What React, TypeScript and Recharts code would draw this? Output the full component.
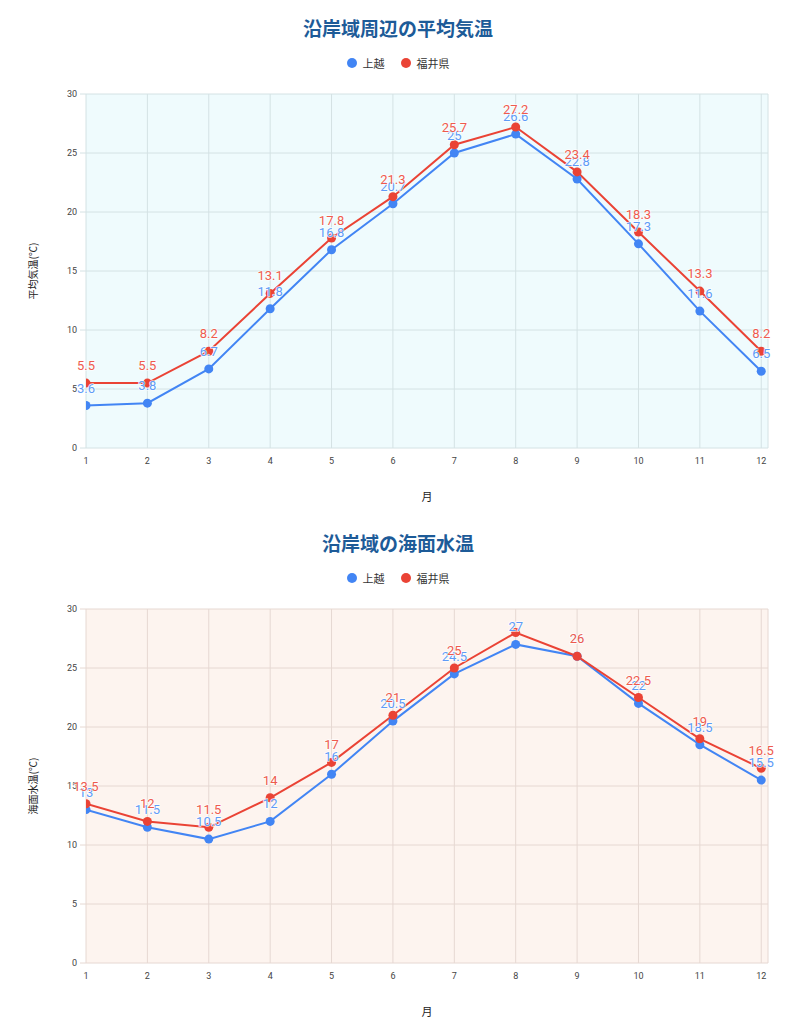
import React from "react";
import { LineChart, Line, XAxis, YAxis, CartesianGrid, LabelList } from "recharts";

const months = [1, 2, 3, 4, 5, 6, 7, 8, 9, 10, 11, 12];
const minorTicks = [1.5, 2.5, 3.5, 4.5, 5.5, 6.5, 7.5, 8.5, 9.5, 10.5, 11.5];
const yTicks = [0, 5, 10, 15, 20, 25, 30];

const seriesNames = ["上越", "福井県"];

// 平均気温
const airJoetsu = [3.6, 3.8, 6.7, 11.8, 16.8, 20.7, 25, 26.6, 22.8, 17.3, 11.6, 6.5];
const airFukui = [5.5, 5.5, 8.2, 13.1, 17.8, 21.3, 25.7, 27.2, 23.4, 18.3, 13.3, 8.2];

// 海面水温
const seaJoetsu = [13, 11.5, 10.5, 12, 16, 20.5, 24.5, 27, 26, 22, 18.5, 15.5];
const seaFukui = [13.5, 12, 11.5, 14, 17, 21, 25, 28, 26, 22.5, 19, 16.5];

const BLUE = "#4285f4";
const RED = "#ea4335";
const BLUE_LABEL = "#5e9bf7";
const RED_LABEL = "#ee5b4e";
const FONT = "Roboto, 'Noto Sans CJK JP', sans-serif";
const JP = "'Noto Sans CJK JP', Roboto, sans-serif";

const MARGIN_TOP = 14;
const LABEL_OFFSET = 13;
const LABEL_SIZE = 13;

type ChartProps = {
  title: string;
  yLabel: string;
  bg: string;
  grid: string;
  a: number[];
  b: number[];
  top: number;
};

// annotations that would stick out above the plot area are dropped, like the original
const makeLabel = (color: string) => (props: any) => {
  const { x, y, value } = props;
  if (y - LABEL_OFFSET - LABEL_SIZE < MARGIN_TOP) return null;
  return (
    <text
      x={x}
      y={y - LABEL_OFFSET}
      textAnchor="middle"
      fill={color}
      fontSize={LABEL_SIZE}
      fontFamily={FONT}
      stroke="#ffffff"
      strokeWidth={1.5}
      strokeOpacity={0.8}
      paintOrder="stroke"
    >
      {value}
    </text>
  );
};

function Legend() {
  const dot = (c: string) => (
    <span style={{ display: "inline-block", width: 10, height: 10, borderRadius: 5, background: c, marginRight: 6 }} />
  );
  return (
    <div style={{ position: "absolute", top: 55, left: 0, width: 796, height: 16, display: "flex", justifyContent: "center", alignItems: "center", fontFamily: JP, fontSize: 11, color: "#333" }}>
      <span style={{ display: "flex", alignItems: "center", marginRight: 16 }}>{dot(BLUE)}{seriesNames[0]}</span>
      <span style={{ display: "flex", alignItems: "center" }}>{dot(RED)}{seriesNames[1]}</span>
    </div>
  );
}

function TempChart({ top, title, yLabel, bg, grid, a, b }: ChartProps) {
  const data = months.map((m, i) => ({ month: m, a: a[i], b: b[i] }));
  return (
    <div style={{ position: "absolute", top, left: 0, width: 796, height: 515 }}>
      <div style={{ position: "absolute", top: 15, left: 0, width: 796, height: 26, lineHeight: "26px", textAlign: "center", fontFamily: JP, fontWeight: 700, fontSize: 19, color: "#1d5b98" }}>
        {title}
      </div>
      <Legend />
      <div style={{ position: "absolute", top: 80, left: 0 }}>
        <LineChart width={796} height={440} data={data} margin={{ top: MARGIN_TOP, right: 28, left: 0, bottom: 12 }}>
          <CartesianGrid xAxisId="main" stroke={grid} fill={bg} fillOpacity={1} />
          <XAxis
            xAxisId="minor"
            type="number"
            domain={[1, 12.11]}
            ticks={minorTicks}
            allowDataOverflow
            height={0}
            tickSize={3}
            tickFormatter={() => ""}
            stroke="#333"
            tickLine={{ stroke: "#333" }}
            axisLine={{ stroke: "#333", strokeWidth: 1 }}
          />
          <XAxis
            xAxisId="main"
            dataKey="month"
            type="number"
            domain={[1, 12.11]}
            ticks={months}
            allowDataOverflow
            height={60}
            axisLine={false}
            tickLine={false}
            tickMargin={4}
            tick={{ fontSize: 9, fill: "#444", fontFamily: FONT }}
            label={{ value: "月", position: "insideBottom", offset: 7, fontSize: 11, fill: "#222", fontFamily: JP }}
          />
          <YAxis
            domain={[0, 30]}
            ticks={yTicks}
            width={86}
            axisLine={false}
            tickSize={6}
            tickMargin={3}
            tickLine={{ stroke: grid }}
            tick={{ fontSize: 9, fill: "#444", fontFamily: FONT }}
            label={{ value: yLabel, angle: -90, position: "center", dx: -10, fontSize: 10, fill: "#222", fontFamily: JP }}
          />
          <Line xAxisId="main" dataKey="a" stroke={BLUE} strokeWidth={2} dot={{ r: 4.5, fill: BLUE, stroke: "none" }} activeDot={false} isAnimationActive={false} />
          <Line xAxisId="main" dataKey="b" stroke={RED} strokeWidth={2} dot={{ r: 4.5, fill: RED, stroke: "none" }} activeDot={false} isAnimationActive={false} />
          <Line xAxisId="main" dataKey="a" stroke="none" dot={false} activeDot={false} isAnimationActive={false}>
            <LabelList dataKey="a" content={makeLabel(BLUE_LABEL)} />
          </Line>
          <Line xAxisId="main" dataKey="b" stroke="none" dot={false} activeDot={false} isAnimationActive={false}>
            <LabelList dataKey="b" content={makeLabel(RED_LABEL)} />
          </Line>
        </LineChart>
      </div>
    </div>
  );
}

export default function App() {
  return (
    <div style={{ position: "absolute", top: 0, left: 0, width: 796, height: 1024, background: "#fff" }}>
      <TempChart top={0} title="沿岸域周辺の平均気温" yLabel="平均気温(℃)" bg="#effbfd" grid="#d4e2e4" a={airJoetsu} b={airFukui} />
      <TempChart top={515} title="沿岸域の海面水温" yLabel="海面水温(℃)" bg="#fdf4ef" grid="#e6d8d2" a={seaJoetsu} b={seaFukui} />
    </div>
  );
}
